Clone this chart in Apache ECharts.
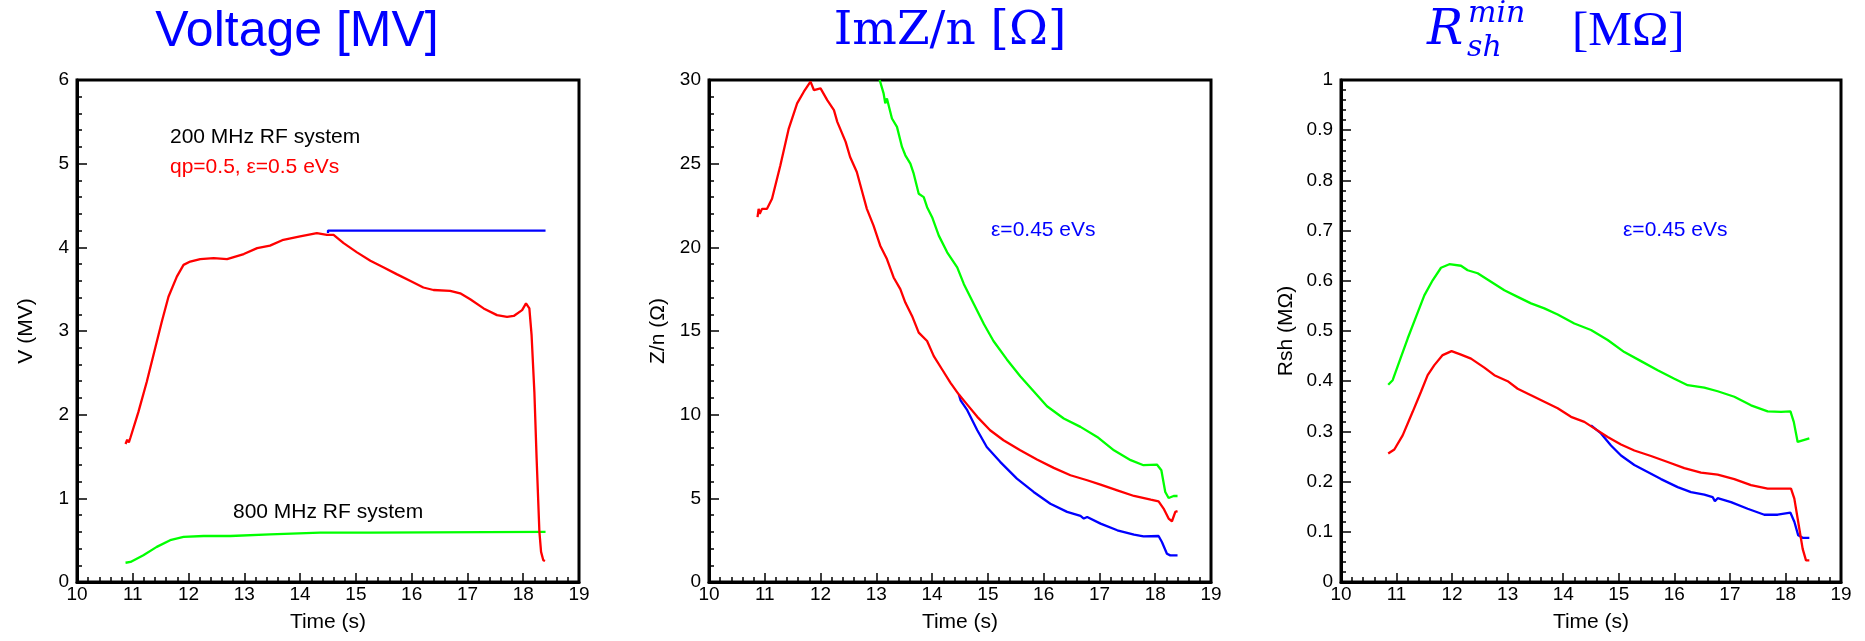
<!DOCTYPE html>
<html>
<head>
<meta charset="utf-8">
<script src="https://cdn.jsdelivr.net/npm/echarts@6/dist/echarts.min.js"></script>
<style>html,body{margin:0;padding:0;background:#fff}#c{width:1865px;height:641px}</style>
</head>
<body>
<div id="c"></div>
<script>
// ---------- DATA (time [s], value) ----------
const voltage200 = [[10.87,1.65],[10.9,1.70],[10.93,1.67],[10.96,1.73],[11.1,2.03],[11.25,2.39],[11.4,2.79],[11.52,3.11],[11.64,3.41],[11.79,3.65],[11.91,3.79],[12.03,3.83],[12.21,3.86],[12.45,3.87],[12.69,3.86],[12.99,3.92],[13.23,3.99],[13.46,4.02],[13.7,4.09],[14.0,4.13],[14.3,4.17],[14.48,4.15],[14.6,4.15],[14.78,4.05],[15.02,3.94],[15.26,3.84],[15.5,3.76],[15.73,3.68],[15.97,3.60],[16.21,3.52],[16.39,3.49],[16.69,3.48],[16.87,3.45],[17.05,3.38],[17.29,3.27],[17.53,3.19],[17.71,3.17],[17.83,3.18],[17.98,3.25],[18.05,3.33],[18.11,3.27],[18.15,2.95],[18.2,2.27],[18.24,1.48],[18.29,0.6],[18.32,0.36],[18.36,0.26],[18.39,0.25]];
const voltageLimit = [[14.5,4.17],[14.5,4.2],[18.4,4.2]];
const voltage800 = [[10.87,0.23],[10.96,0.24],[11.19,0.32],[11.43,0.42],[11.67,0.50],[11.91,0.54],[12.27,0.55],[12.75,0.55],[13.46,0.57],[14.36,0.59],[15.26,0.59],[18.4,0.60]];

const imzRed = [[10.87,21.8],[10.89,22.3],[10.91,22.0],[10.95,22.3],[11.04,22.3],[11.13,22.9],[11.28,24.9],[11.43,27.1],[11.58,28.6],[11.7,29.3],[11.82,29.9],[11.88,29.4],[11.91,29.5],[12.0,29.5],[12.12,28.8],[12.24,28.2],[12.3,27.5],[12.45,26.3],[12.53,25.4],[12.65,24.5],[12.74,23.4],[12.83,22.3],[12.95,21.3],[13.07,20.1],[13.19,19.3],[13.31,18.2],[13.43,17.5],[13.52,16.7],[13.64,15.9],[13.76,14.9],[13.91,14.4],[14.03,13.5],[14.18,12.7],[14.33,11.9],[14.48,11.2],[14.63,10.6],[14.81,9.87],[15.04,9.07],[15.28,8.47],[15.58,7.87],[15.88,7.32],[16.18,6.82],[16.48,6.38],[16.78,6.08],[17.02,5.82],[17.32,5.48],[17.62,5.14],[17.92,4.92],[18.06,4.82],[18.15,4.39],[18.24,3.79],[18.3,3.63],[18.36,4.19],[18.4,4.23]];
const imzBlue = [[14.48,11.2],[14.51,10.86],[14.63,10.27],[14.81,9.07],[14.98,8.07],[15.22,7.18],[15.52,6.18],[15.82,5.38],[16.12,4.68],[16.42,4.19],[16.66,3.95],[16.72,3.79],[16.78,3.89],[17.02,3.49],[17.32,3.09],[17.62,2.83],[17.79,2.73],[18.06,2.75],[18.12,2.39],[18.21,1.69],[18.27,1.59],[18.4,1.59]];
const imzGreen = [[13.06,30.0],[13.13,29.2],[13.16,28.6],[13.19,28.9],[13.28,27.7],[13.37,27.2],[13.46,26.0],[13.52,25.5],[13.61,25.0],[13.67,24.4],[13.76,23.2],[13.85,23.0],[13.91,22.4],[14.0,21.8],[14.12,20.7],[14.27,19.7],[14.45,18.8],[14.57,17.8],[14.75,16.6],[14.93,15.4],[15.1,14.4],[15.34,13.3],[15.58,12.3],[15.82,11.4],[16.06,10.5],[16.36,9.77],[16.66,9.27],[16.96,8.67],[17.26,7.87],[17.56,7.28],[17.79,6.98],[18.03,7.02],[18.11,6.68],[18.18,5.38],[18.24,5.02],[18.33,5.14],[18.4,5.14]];

const rshGreen = [[10.85,0.393],[10.93,0.402],[11.05,0.439],[11.2,0.485],[11.35,0.528],[11.5,0.571],[11.65,0.601],[11.8,0.626],[11.95,0.633],[12.16,0.630],[12.28,0.621],[12.46,0.615],[12.7,0.598],[12.94,0.581],[13.18,0.568],[13.42,0.555],[13.66,0.545],[13.9,0.533],[14.2,0.515],[14.5,0.502],[14.8,0.482],[15.1,0.458],[15.4,0.440],[15.7,0.422],[16.0,0.405],[16.24,0.392],[16.54,0.387],[16.78,0.380],[17.08,0.369],[17.38,0.352],[17.68,0.340],[17.92,0.339],[18.09,0.340],[18.15,0.319],[18.22,0.279],[18.31,0.282],[18.43,0.286]];
const rshRed = [[10.85,0.256],[10.96,0.264],[11.11,0.292],[11.29,0.339],[11.44,0.379],[11.56,0.412],[11.68,0.432],[11.83,0.452],[11.99,0.460],[12.16,0.453],[12.34,0.445],[12.58,0.427],[12.76,0.412],[13.0,0.400],[13.18,0.385],[13.42,0.372],[13.66,0.359],[13.9,0.346],[14.14,0.329],[14.38,0.319],[14.56,0.306],[14.8,0.289],[15.04,0.274],[15.28,0.262],[15.58,0.251],[15.88,0.239],[16.18,0.227],[16.48,0.218],[16.78,0.214],[17.08,0.205],[17.38,0.193],[17.68,0.186],[17.92,0.186],[18.1,0.186],[18.16,0.166],[18.25,0.106],[18.31,0.066],[18.37,0.043],[18.43,0.043]];
const rshBlue = [[14.5,0.312],[14.68,0.296],[14.86,0.272],[15.04,0.252],[15.28,0.233],[15.52,0.219],[15.76,0.205],[16.06,0.189],[16.3,0.179],[16.54,0.174],[16.69,0.169],[16.73,0.161],[16.78,0.167],[17.02,0.159],[17.32,0.146],[17.62,0.134],[17.86,0.134],[18.09,0.138],[18.16,0.120],[18.23,0.093],[18.31,0.088],[18.43,0.088]];

const yNames = ['V (MV)', 'Z/n (\u03A9)', 'Rsh (M\u03A9)'];
const yRanges = [[0, 6, 1], [0, 30, 5], [0, 1, 0.1]];
const xName = 'Time (s)';

// ---------- CHART ----------
const RED = '#ff0000', GREEN = '#00ff00', BLUE = '#0000ff';
const SANS = '"Liberation Sans", Arial, sans-serif';
const SERIF = '"DejaVu Serif", serif';
const SERIF2 = '"Liberation Serif", serif';
const grids = [
  {left: 77, top: 80, width: 502, height: 502},
  {left: 709, top: 80, width: 502, height: 502},
  {left: 1341, top: 80, width: 500, height: 502}
];
const yGaps = [40, 40, 44];

function xAxis(i) {
  return {
    type: 'value', gridIndex: i, min: 10, max: 19, interval: 1,
    name: xName, nameLocation: 'middle', nameGap: 30,
    nameTextStyle: {color: '#000', fontSize: 21, fontFamily: SANS},
    axisLine: {show: true, onZero: false, lineStyle: {color: '#000', width: 3}},
    axisTick: {show: true, inside: true, length: 9, lineStyle: {color: '#000', width: 1.5}},
    minorTick: {show: true, splitNumber: 5, length: 5, lineStyle: {color: '#000', width: 1.5}},
    axisLabel: {color: '#000', fontSize: 19, fontFamily: SANS, margin: 3},
    splitLine: {show: false}, minorSplitLine: {show: false}
  };
}
function yAxis(i) {
  const r = yRanges[i];
  return {
    type: 'value', gridIndex: i, min: r[0], max: r[1], interval: r[2],
    name: yNames[i], nameLocation: 'middle', nameGap: yGaps[i],
    nameTextStyle: {color: '#000', fontSize: 21, fontFamily: SANS},
    axisLine: {show: true, onZero: false, lineStyle: {color: '#000', width: 3}},
    axisTick: {show: true, inside: true, length: 10, lineStyle: {color: '#000', width: 1.5}},
    minorTick: {show: true, splitNumber: 5, length: 5, lineStyle: {color: '#000', width: 1.5}},
    axisLabel: {color: '#000', fontSize: 19, fontFamily: SANS, margin: 8},
    splitLine: {show: false}, minorSplitLine: {show: false}
  };
}
function line(data, color, gi, z) {
  return {type: 'line', data: data, xAxisIndex: gi, yAxisIndex: gi, showSymbol: false, symbol: 'none',
    smooth: false, lineStyle: {color: color, width: 2.3}, itemStyle: {color: color}, z: z, animation: false, silent: true};
}
function txt(x, y, text, font, color, align) {
  return {type: 'text', x: x, y: y, silent: true,
    style: {text: text, font: font, fill: color, align: align || 'left', verticalAlign: 'middle'}};
}

const chart = echarts.init(document.getElementById('c'), null, {renderer: 'canvas'});
chart.setOption({
  backgroundColor: '#fff',
  animation: false,
  grid: grids.map(g => Object.assign({show: true, borderColor: '#000', borderWidth: 3, backgroundColor: 'transparent'}, g)),
  xAxis: [xAxis(0), xAxis(1), xAxis(2)],
  yAxis: [yAxis(0), yAxis(1), yAxis(2)],
  series: [
    line(voltageLimit, BLUE, 0, 2), line(voltage800, GREEN, 0, 3), line(voltage200, RED, 0, 4),
    line(imzBlue, BLUE, 1, 2), line(imzGreen, GREEN, 1, 3), line(imzRed, RED, 1, 4),
    line(rshBlue, BLUE, 2, 2), line(rshGreen, GREEN, 2, 3), line(rshRed, RED, 2, 4)
  ],
  graphic: [
    txt(297, 32, 'Voltage [MV]', '50px ' + SANS, BLUE, 'center'),
    txt(950, 32, 'ImZ/n [\u03A9]', '47px ' + SERIF, BLUE, 'center'),
    txt(1427, 32, 'R', 'italic 48px ' + SERIF, BLUE, 'left'),
    txt(1468, 14, 'min', 'italic 30px ' + SERIF, BLUE, 'left'),
    txt(1467, 48, 'sh', 'italic 30px ' + SERIF, BLUE, 'left'),
    txt(1572, 32, '[M\u03A9]', '49px ' + SERIF2, BLUE, 'left'),
    txt(170, 137, '200 MHz RF system', '21px ' + SANS, '#000'),
    txt(170, 167, 'qp=0.5, \u03B5=0.5 eVs', '21px ' + SANS, RED),
    txt(233, 512, '800 MHz RF system', '21px ' + SANS, '#000'),
    txt(991, 230, '\u03B5=0.45 eVs', '21px ' + SANS, BLUE),
    txt(1623, 230, '\u03B5=0.45 eVs', '21px ' + SANS, BLUE)
  ]
});
</script>
</body>
</html>
